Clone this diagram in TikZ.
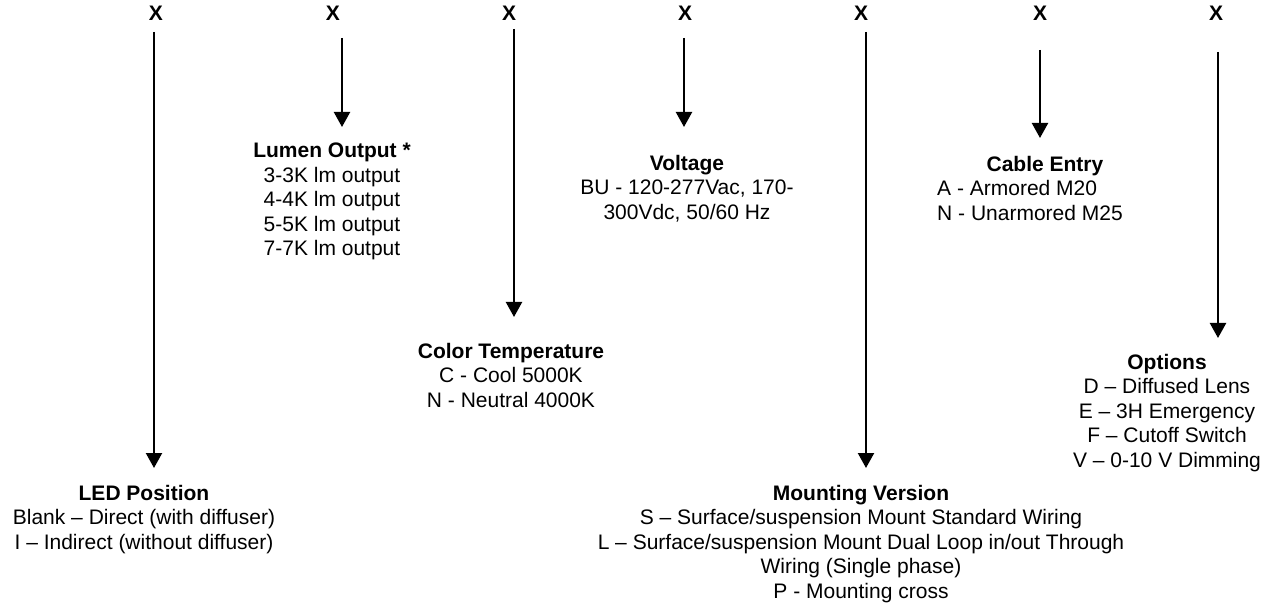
\documentclass[tikz,border=0pt]{standalone}
\usepackage{fontspec}
\setmainfont{Liberation Sans}
\usepackage{tikz}
\usetikzlibrary{arrows.meta}

\begin{document}
\begin{tikzpicture}[x=1pt, y=-1pt,
    codeletter/.style={font=\fontsize{21}{24.5}\selectfont\bfseries, anchor=base, inner sep=0pt},
    codearrow/.style={-{Triangle[width=16pt, length=15pt]}, line width=2.2pt},
    infoblock/.style={font=\fontsize{21}{24.5}\selectfont, align=center, anchor=north, inner sep=0pt},
    infolist/.style={font=\fontsize{21}{24.5}\selectfont, align=left, anchor=north west, inner sep=0pt}]
    \useasboundingbox (0,0) rectangle (1278,604);

    % Code letters
    \node[codeletter] (xled) at (156, 21) {X};
    \node[codeletter] (xlumen) at (333, 21) {X};
    \node[codeletter] (xcolor) at (509, 21) {X};
    \node[codeletter] (xvolt) at (685, 21) {X};
    \node[codeletter] (xmount) at (861, 21) {X};
    \node[codeletter] (xcable) at (1040, 21) {X};
    \node[codeletter] (xopt) at (1216, 21) {X};

    % LED position
    \coordinate (led-top) at (154, 32);
    \coordinate (led-tip) at (154, 468);
    \draw[codearrow] (led-top) -- (led-tip);
    \node[infoblock] (led) at (144, 485) {\textbf{LED Position}\\Blank – Direct (with diffuser)\\I – Indirect (without diffuser)};

    % Lumen output
    \coordinate (lumen-top) at (342, 38);
    \coordinate (lumen-tip) at (342, 127);
    \draw[codearrow] (lumen-top) -- (lumen-tip);
    \node[infoblock] (lumen) at (332, 143) {\textbf{Lumen Output *}\\3-3K lm output\\4-4K lm output\\5-5K lm output\\7-7K lm output};

    % Color temperature
    \coordinate (color-top) at (514, 29);
    \coordinate (color-tip) at (514, 317);
    \draw[codearrow] (color-top) -- (color-tip);
    \node[infoblock] (color) at (511, 343) {\textbf{Color Temperature}\\C - Cool 5000K\\N - Neutral 4000K};

    % Voltage
    \coordinate (volt-top) at (684, 38);
    \coordinate (volt-tip) at (684, 127);
    \draw[codearrow] (volt-top) -- (volt-tip);
    \node[infoblock] (volt) at (687, 155) {\textbf{Voltage}\\BU - 120-277Vac, 170-\\300Vdc, 50/60 Hz};

    % Mounting version
    \coordinate (mount-top) at (866, 32);
    \coordinate (mount-tip) at (866, 468);
    \draw[codearrow] (mount-top) -- (mount-tip);
    \node[infoblock] (mount) at (861, 485) {\textbf{Mounting Version}\\S – Surface/suspension Mount Standard Wiring\\L – Surface/suspension Mount Dual Loop in/out Through\\Wiring (Single phase)\\P - Mounting cross};

    % Cable entry
    \coordinate (cable-top) at (1040, 50);
    \coordinate (cable-tip) at (1040, 138);
    \draw[codearrow] (cable-top) -- (cable-tip);
    \node[infoblock] (cable) at (1045, 156) {\textbf{Cable Entry}};
    \node[infolist] (cablelist) at (937, 180.5) {A - Armored M20\\N - Unarmored M25};

    % Options
    \coordinate (opt-top) at (1218, 52);
    \coordinate (opt-tip) at (1218, 338);
    \draw[codearrow] (opt-top) -- (opt-tip);
    \node[infoblock] (opt) at (1167, 354) {\textbf{Options}\\D – Diffused Lens\\E – 3H Emergency\\F – Cutoff Switch\\V – 0-10 V Dimming};

\end{tikzpicture}
\end{document}
